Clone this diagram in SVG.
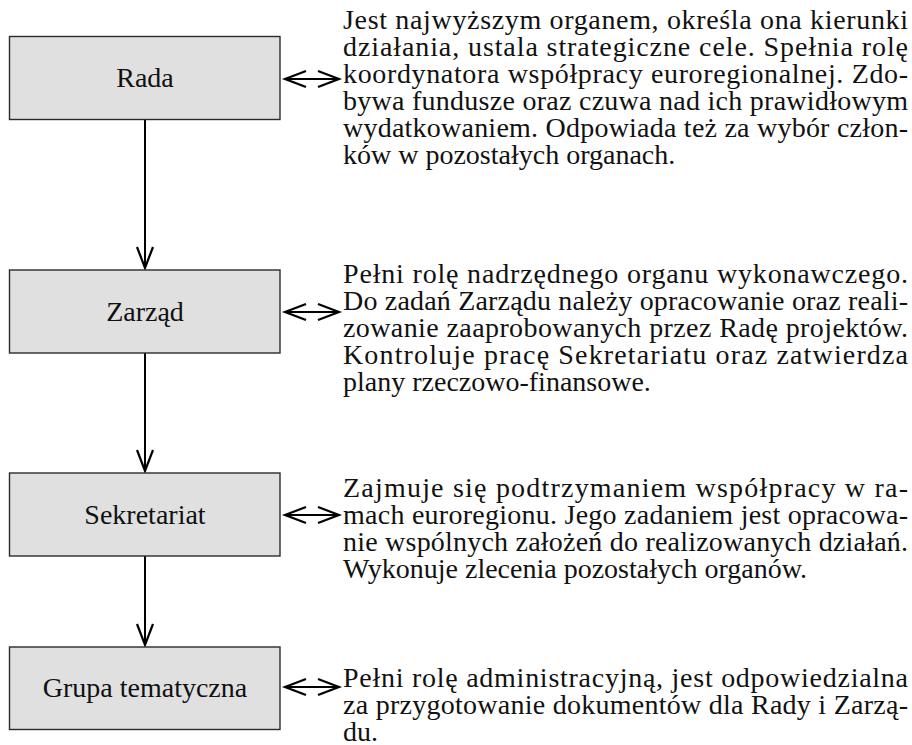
<svg xmlns="http://www.w3.org/2000/svg" width="912" height="745" viewBox="0 0 912 745">
<style>
.box{fill:#e0e0e0;stroke:#2b2b2b;stroke-width:1.4}
.lbl{font-family:"Liberation Serif","Times New Roman",serif;font-size:28px;fill:#111;text-anchor:middle}
.txt{font-family:"Liberation Serif","Times New Roman",serif;font-size:28px;fill:#111}
.con{stroke:#000;stroke-width:2;fill:none}
</style>
<defs>
<marker id="ah" markerUnits="userSpaceOnUse" markerWidth="26" markerHeight="22" refX="22" refY="11" orient="auto-start-reverse">
<path d="M1,3 L22,11 L1,19" fill="none" stroke="#000" stroke-width="2.2"/>
</marker>
</defs>
<rect width="912" height="745" fill="#fff"/>
<g id="connectors">
<line class="con" x1="145" y1="120" x2="145" y2="268" marker-end="url(#ah)"/>
<line class="con" x1="145" y1="353" x2="145" y2="471" marker-end="url(#ah)"/>
<line class="con" x1="145" y1="556" x2="145" y2="645" marker-end="url(#ah)"/>
<line class="con" x1="285" y1="79" x2="339" y2="79" marker-start="url(#ah)" marker-end="url(#ah)"/>
<line class="con" x1="285" y1="312" x2="339" y2="312" marker-start="url(#ah)" marker-end="url(#ah)"/>
<line class="con" x1="285" y1="515" x2="339" y2="515" marker-start="url(#ah)" marker-end="url(#ah)"/>
<line class="con" x1="285" y1="687" x2="339" y2="687" marker-start="url(#ah)" marker-end="url(#ah)"/>
</g>
<g id="rada">
<rect class="box" x="9.5" y="36.5" width="270.5" height="83"/>
<text class="lbl" x="145" y="87">Rada</text>
</g>
<g id="zarzad">
<rect class="box" x="9.5" y="270" width="270.5" height="83"/>
<text class="lbl" x="145" y="321">Zarząd</text>
</g>
<g id="sekretariat">
<rect class="box" x="9.5" y="473" width="270.5" height="83"/>
<text class="lbl" x="145" y="524">Sekretariat</text>
</g>
<g id="grupa">
<rect class="box" x="9.5" y="647" width="270.5" height="82.5"/>
<text class="lbl" x="145" y="697">Grupa tematyczna</text>
</g>
<g id="opis-rada">
<text class="txt" x="343" y="29" textLength="565" lengthAdjust="spacing">Jest najwyższym organem, określa ona kierunki</text>
<text class="txt" x="343" y="56" textLength="565" lengthAdjust="spacing">działania, ustala strategiczne cele. Spełnia rolę</text>
<text class="txt" x="343" y="83" textLength="565" lengthAdjust="spacing">koordynatora współpracy euroregionalnej. Zdo-</text>
<text class="txt" x="343" y="110" textLength="565" lengthAdjust="spacing">bywa fundusze oraz czuwa nad ich prawidłowym</text>
<text class="txt" x="343" y="137" textLength="565" lengthAdjust="spacing">wydatkowaniem. Odpowiada też za wybór człon-</text>
<text class="txt" x="343" y="164">ków w pozostałych organach.</text>
</g>
<g id="opis-zarzad">
<text class="txt" x="343" y="283" textLength="565" lengthAdjust="spacing">Pełni rolę nadrzędnego organu wykonawczego.</text>
<text class="txt" x="343" y="310" textLength="565" lengthAdjust="spacing">Do zadań Zarządu należy opracowanie oraz reali-</text>
<text class="txt" x="343" y="337" textLength="565" lengthAdjust="spacing">zowanie zaaprobowanych przez Radę projektów.</text>
<text class="txt" x="343" y="364" textLength="565" lengthAdjust="spacing">Kontroluje pracę Sekretariatu oraz zatwierdza</text>
<text class="txt" x="343" y="391">plany rzeczowo-finansowe.</text>
</g>
<g id="opis-sekretariat">
<text class="txt" x="343" y="497" textLength="565" lengthAdjust="spacing">Zajmuje się podtrzymaniem współpracy w ra-</text>
<text class="txt" x="343" y="524" textLength="565" lengthAdjust="spacing">mach euroregionu. Jego zadaniem jest opracowa-</text>
<text class="txt" x="343" y="551" textLength="565" lengthAdjust="spacing">nie wspólnych założeń do realizowanych działań.</text>
<text class="txt" x="343" y="578">Wykonuje zlecenia pozostałych organów.</text>
</g>
<g id="opis-grupa">
<text class="txt" x="343" y="687" textLength="565" lengthAdjust="spacing">Pełni rolę administracyjną, jest odpowiedzialna</text>
<text class="txt" x="343" y="714" textLength="565" lengthAdjust="spacing">za przygotowanie dokumentów dla Rady i Zarzą-</text>
<text class="txt" x="343" y="741">du.</text>
</g>
</svg>
